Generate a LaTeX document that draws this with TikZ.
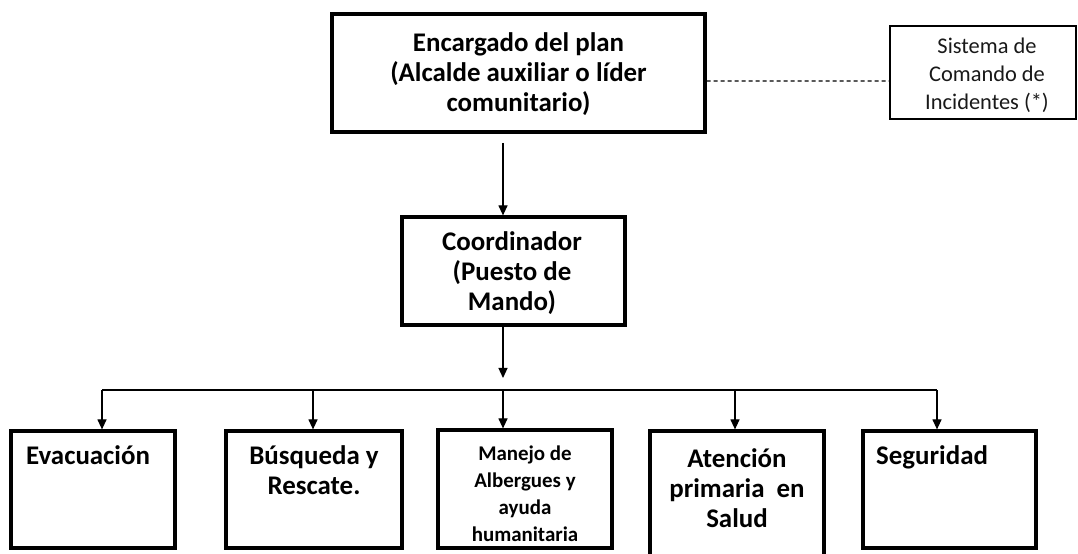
\documentclass[tikz,border=0pt]{standalone}
\usepackage{fontspec}
\setmainfont{Carlito}
\usetikzlibrary{arrows.meta}
\begin{document}
\begin{tikzpicture}[x=1bp,y=-1bp,
  thickbox/.style={draw=black,line width=3.2bp,rectangle,inner sep=0pt},
  thinbox/.style={draw=black,line width=1.6bp,rectangle,inner sep=0pt},
  arr/.style={line width=1.2bp,-{Triangle[width=9bp,length=10bp]}},
  busline/.style={line width=1.2bp},
  dashline/.style={draw=black,line width=1.1bp,dash pattern=on 4bp off 3bp},
  lbl/.style={font=\bfseries\fontsize{27}{30}\selectfont,align=center,inner sep=0pt},
  smalllbl/.style={font=\bfseries\fontsize{21}{27}\selectfont,align=center,inner sep=0pt},
  scilbl/.style={font=\fontsize{22.5}{28}\selectfont,align=center,inner sep=0pt,text=black!90}
]
\useasboundingbox (0,0) rectangle (1078,554);
\fill[white] (0,0) rectangle (1078,554);

% boxes
\node[thickbox,minimum width=373bp,minimum height=118bp] (top) at (518.5,73) {};
\node[thinbox,minimum width=186bp,minimum height=93bp] (sci) at (983,72.5) {};
\node[thickbox,minimum width=223bp,minimum height=108bp] (coord) at (513.5,271) {};
\node[thickbox,minimum width=164bp,minimum height=117bp] (evac) at (93,489.5) {};
\node[thickbox,minimum width=176bp,minimum height=117bp] (busq) at (314,489.5) {};
\node[thickbox,minimum width=174bp,minimum height=118bp] (manejo) at (525,489) {};
\node[thickbox,minimum width=174bp,minimum height=129bp] (aten) at (737,495.5) {};
\node[thickbox,minimum width=173bp,minimum height=117bp] (seg) at (949.5,489.5) {};

% texts
\node[lbl] (ttop) at (518.5,74) {Encargado del plan\\(Alcalde auxiliar o líder\\comunitario)};
\node[scilbl] (tsci) at (987,75) {Sistema de\\Comando de\\Incidentes (*)};
\node[lbl] (tcoord) at (512,273) {Coordinador\\(Puesto de\\Mando)};
\node[lbl,anchor=west] (tevac) at (26,455) {Evacuación};
\node[lbl] (tbusq) at (314,470) {Búsqueda y\\Rescate.};
\node[smalllbl] (tmanejo) at (525,494) {Manejo de\\Albergues y\\ayuda\\humanitaria};
\node[lbl] (taten) at (737,488) {Atención\\primaria~ en\\Salud};
\node[lbl,anchor=west] (tseg) at (876,457) {Seguridad};

% connectors
\draw[dashline] ([yshift=-8bp]top.east) -- ([yshift=-8.5bp]sci.west);
\coordinate (a1) at (503,143);
\draw[arr] (a1) -- (a1 |- coord.north);
\coordinate (a2) at (503,378);
\draw[arr] (a2 |- coord.south) -- (a2);
\coordinate (d1) at (102,390);
\coordinate (d2) at (313,390);
\coordinate (d3) at (503,390);
\coordinate (d4) at (735,390);
\coordinate (d5) at (937,390);
\draw[busline] (d1) -- (d5);
\draw[arr] (d1) -- (d1 |- evac.north);
\draw[arr] (d2) -- (d2 |- busq.north);
\draw[arr] (d3) -- (d3 |- manejo.north);
\draw[arr] (d4) -- (d4 |- aten.north);
\draw[arr] (d5) -- (d5 |- seg.north);
\end{tikzpicture}
\end{document}
